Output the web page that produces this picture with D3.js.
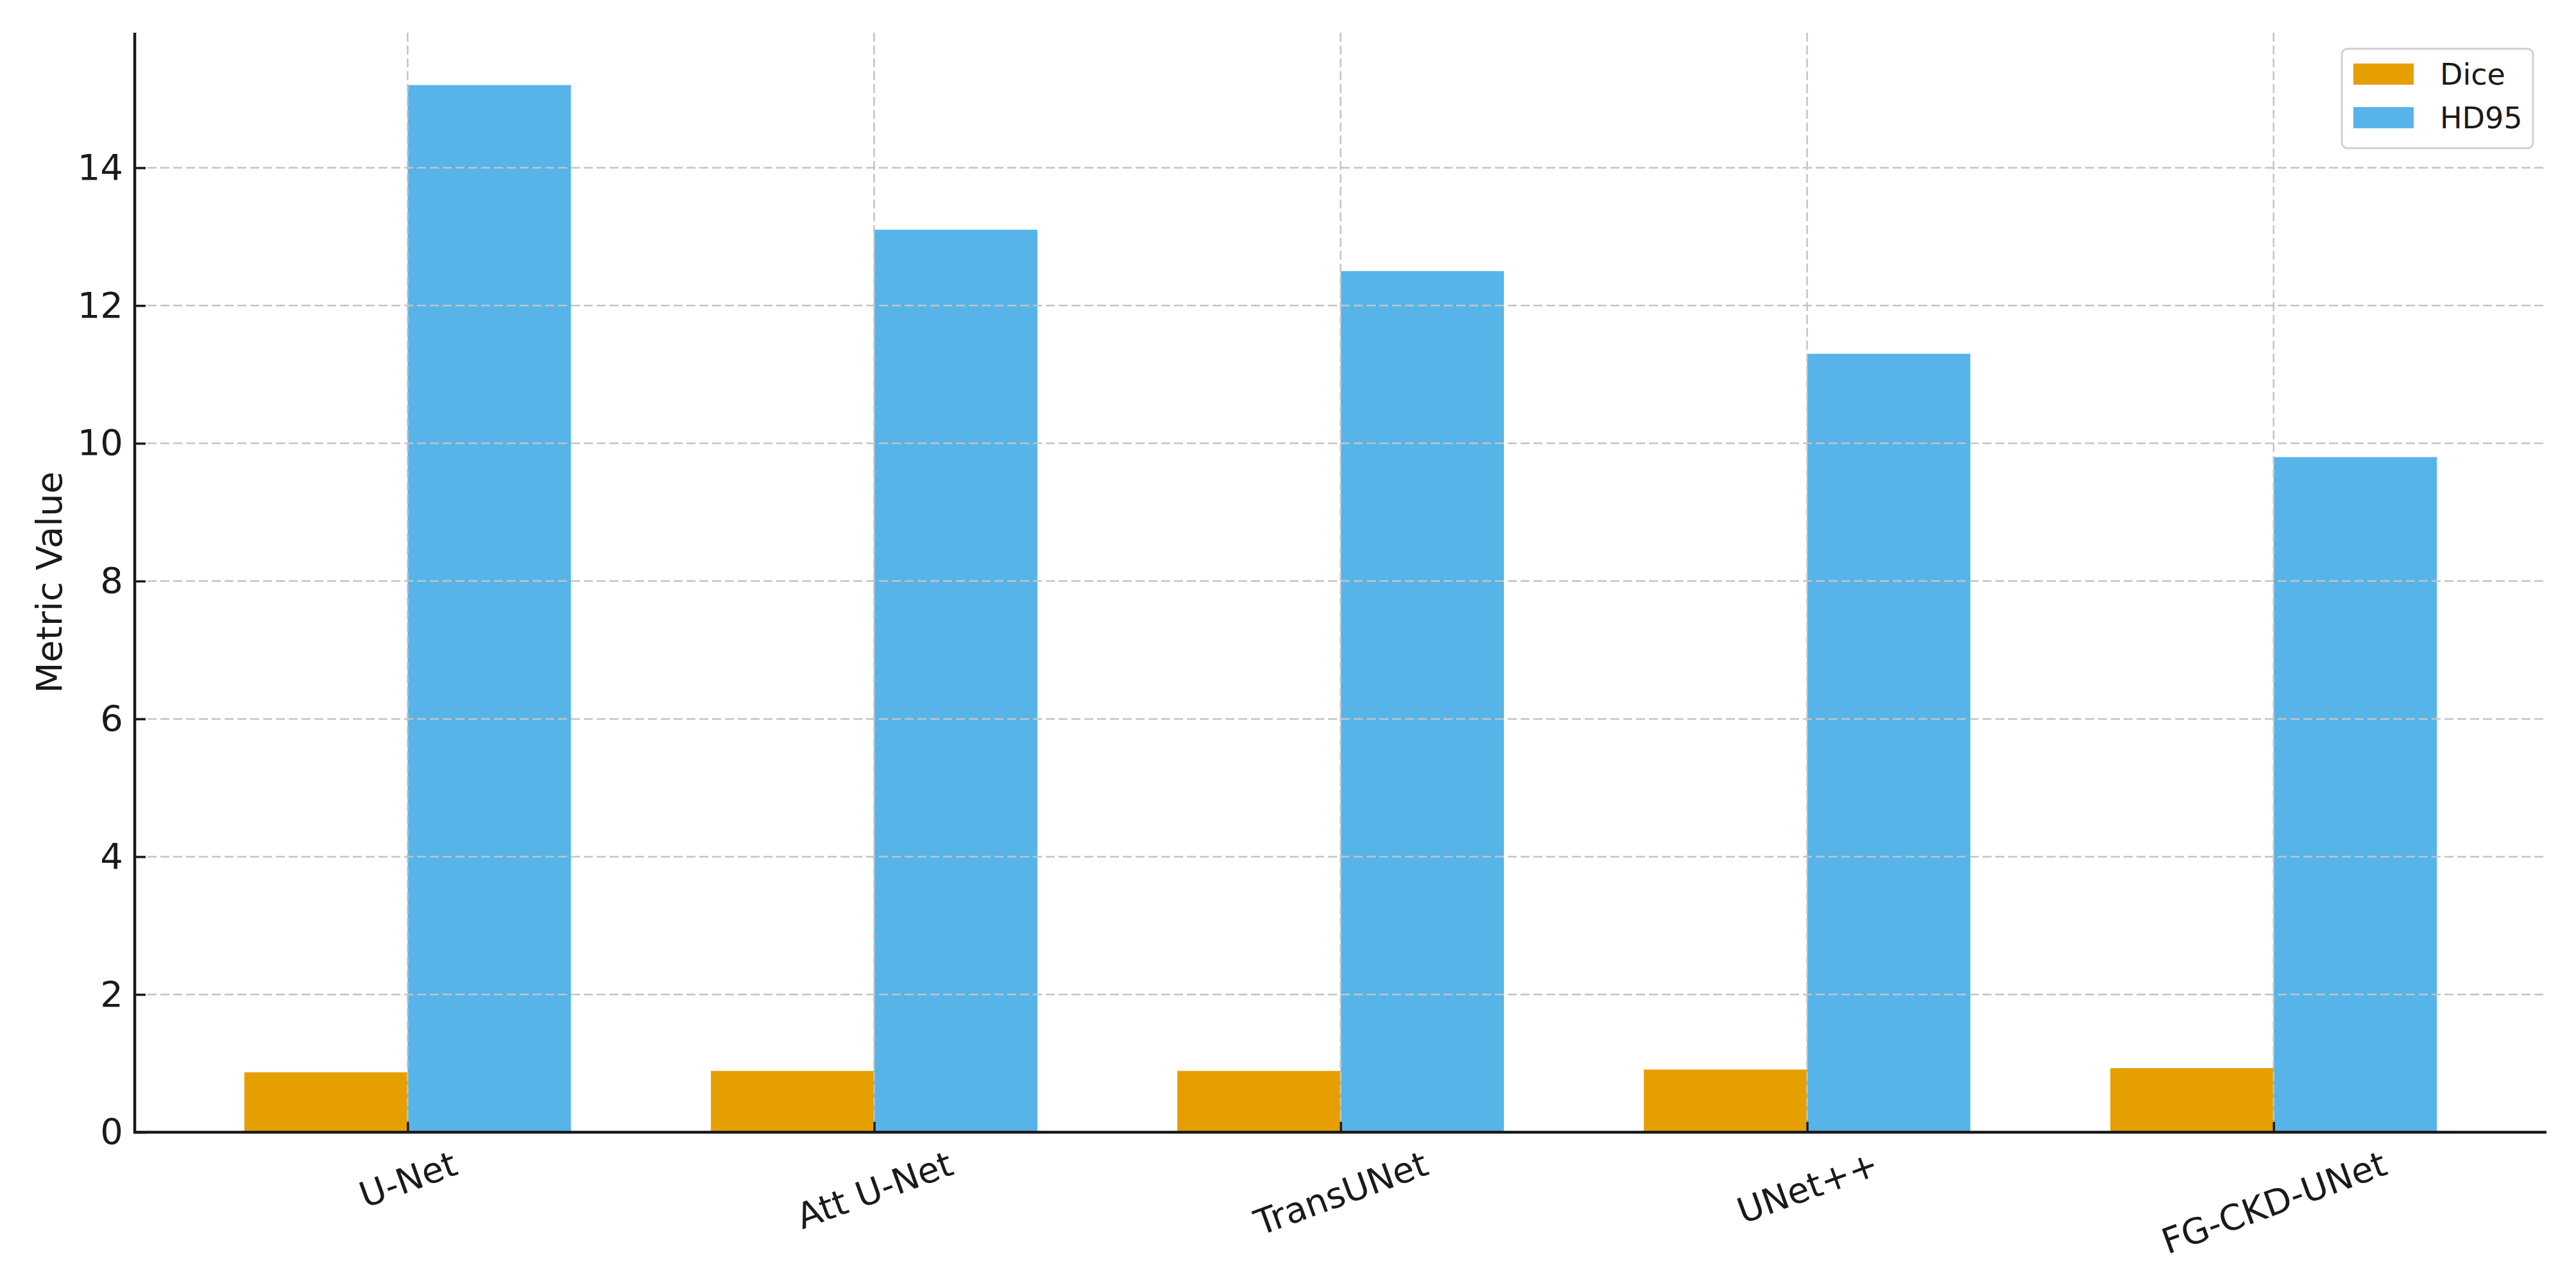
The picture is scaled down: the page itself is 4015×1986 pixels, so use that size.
<!DOCTYPE html>
<html>
<head>
<meta charset="utf-8">
<script src="https://cdn.jsdelivr.net/npm/d3@7"></script>
<style>
  html, body { margin: 0; padding: 0; background: #ffffff; }
  svg { display: block; }
  text { font-family: "DejaVu Sans", sans-serif; fill: #1a1a1a; }
</style>
</head>
<body>
<svg id="chart" width="4015" height="1986"></svg>
<script>
// ---- data ----
const categories = ["U-Net", "Att U-Net", "TransUNet", "UNet++", "FG-CKD-UNet"];
const seriesNames = ["Dice", "HD95"];
const diceValues = [0.87, 0.89, 0.89, 0.91, 0.93];
const hd95Values = [15.2, 13.1, 12.5, 11.3, 9.8];
const yTickValues = [0, 2, 4, 6, 8, 10, 12, 14];
const seriesColors = ["#E69F00", "#56B4E9"];

// ---- layout ----
const W = 4015, H = 1986;
const plot = { left: 210, right: 3969, top: 51, bottom: 1765 };
const barW = 0.35;
const n = categories.length;
const xPad = 0.05 * ((n - 1) + 2 * barW);

const svg = d3.select("#chart");
svg.append("rect").attr("width", W).attr("height", H).attr("fill", "#ffffff");

const x = d3.scaleLinear()
  .domain([-barW - xPad, (n - 1) + barW + xPad])
  .range([plot.left, plot.right]);
const yMax = d3.max(hd95Values.concat(diceValues)) * 1.05;
const y = d3.scaleLinear().domain([0, yMax]).range([plot.bottom, plot.top]);

const series = [diceValues, hd95Values];

// ---- bars ----
series.forEach((vals, s) => {
  svg.append("g").selectAll("rect")
    .data(vals)
    .join("rect")
    .attr("x", (d, i) => x(i + (s === 0 ? -barW : 0)))
    .attr("width", (d, i) => x(i + barW) - x(i))
    .attr("y", d => y(d))
    .attr("height", d => y(0) - y(d))
    .attr("fill", seriesColors[s]);
});

// ---- grid (drawn above bars, like matplotlib) ----
const grid = svg.append("g")
  .attr("stroke", "#c4c4c4")
  .attr("stroke-width", 2.5)
  .attr("stroke-dasharray", "14,6");
grid.selectAll("line.h")
  .data(yTickValues)
  .join("line").attr("class", "h")
  .attr("x1", plot.left).attr("x2", plot.right)
  .attr("y1", d => y(d)).attr("y2", d => y(d));
grid.selectAll("line.v")
  .data(d3.range(n))
  .join("line").attr("class", "v")
  .attr("y1", plot.top).attr("y2", plot.bottom)
  .attr("x1", d => x(d)).attr("x2", d => x(d));

// ---- y axis ----
const yAxis = svg.append("g")
  .attr("transform", `translate(${plot.left},0)`)
  .call(d3.axisLeft(y).tickValues(yTickValues).tickFormat(d3.format("d"))
    .tickSizeInner(-17).tickSizeOuter(0).tickPadding(18));
yAxis.select(".domain").remove();
yAxis.selectAll(".tick line").attr("stroke", "#1a1a1a").attr("stroke-width", 3.5);
yAxis.selectAll(".tick text")
  .attr("font-size", 56).attr("font-family", "DejaVu Sans").attr("fill", "#1a1a1a");

// ---- x axis ----
const xAxis = svg.append("g")
  .attr("transform", `translate(0,${plot.bottom})`)
  .call(d3.axisBottom(x).tickValues(d3.range(n)).tickFormat(i => categories[i])
    .tickSizeInner(-16).tickSizeOuter(0));
xAxis.select(".domain").remove();
xAxis.selectAll(".tick line").attr("stroke", "#1a1a1a").attr("stroke-width", 3.5);
const xfs = 55;
const ang = 20 * Math.PI / 180;
xAxis.selectAll(".tick text")
  .attr("font-size", xfs).attr("font-family", "DejaVu Sans").attr("fill", "#1a1a1a")
  .attr("text-anchor", "middle")
  .attr("dy", null)
  .each(function () {
    const t = d3.select(this);
    const L = this.getComputedTextLength();
    const hCap = 0.73 * xfs;
    const cy = 27 + (L * Math.sin(ang) + hCap * Math.cos(ang)) / 2;
    t.attr("y", 0)
     .attr("transform", `translate(0,${cy}) rotate(-20)`)
     .attr("dy", (0.365 * xfs).toFixed(1));
  });

// ---- spines ----
svg.append("line")
  .attr("x1", plot.left).attr("x2", plot.left)
  .attr("y1", plot.top).attr("y2", plot.bottom + 2)
  .attr("stroke", "#1a1a1a").attr("stroke-width", 4.5);
svg.append("line")
  .attr("x1", plot.left - 2).attr("x2", plot.right)
  .attr("y1", plot.bottom).attr("y2", plot.bottom)
  .attr("stroke", "#1a1a1a").attr("stroke-width", 4.5);

// ---- y label ----
svg.append("text")
  .attr("transform", `translate(96,${(plot.top + plot.bottom) / 2}) rotate(-90)`)
  .attr("text-anchor", "middle")
  .attr("font-size", 56)
  .text("Metric Value");

// ---- legend ----
const lg = svg.append("g").attr("transform", "translate(3650,76)");
lg.append("rect")
  .attr("width", 298).attr("height", 155).attr("rx", 9)
  .attr("fill", "#ffffff").attr("fill-opacity", 0.8)
  .attr("stroke", "#d0d0d0").attr("stroke-width", 3);
seriesNames.forEach((name, i) => {
  const row = lg.append("g").attr("transform", `translate(0,${23 + i * 68})`);
  row.append("rect").attr("x", 18).attr("y", 0).attr("width", 94).attr("height", 33)
    .attr("fill", seriesColors[i]);
  row.append("text").attr("x", 153).attr("y", 33)
    .attr("font-size", 46).text(name);
});
</script>
</body>
</html>
